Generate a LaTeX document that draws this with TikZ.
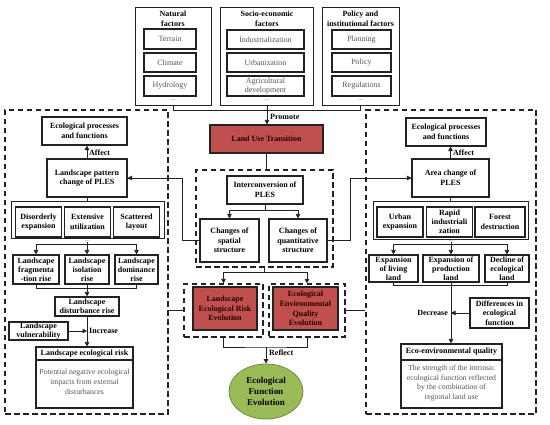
\documentclass[tikz,border=0pt]{standalone}
\usepackage{fontspec}
\setmainfont{Liberation Serif}
\usetikzlibrary{arrows.meta,shapes.geometric}
\definecolor{redf}{HTML}{C0504D}
\definecolor{greenf}{HTML}{9BBB59}
\definecolor{greenl}{HTML}{71893F}
\definecolor{ln}{HTML}{222222}
\definecolor{gtxt}{HTML}{555555}
\begin{document}
\begin{tikzpicture}[x=1pt,y=-1pt,
  sz/.style 2 args={minimum width=#1pt, minimum height=#2pt},
  bx/.style={draw=ln, line width=1.1pt, inner sep=0pt, align=center, font=\fontsize{8}{9.6}\selectfont\bfseries, text=black},
  obx/.style={draw=ln, line width=0.7pt, inner sep=0pt},
  ibx/.style={draw=ln, line width=1.1pt, inner sep=0pt, align=center, font=\fontsize{8}{9}\selectfont, text=gtxt},
  ttl/.style={inner sep=0pt, align=center, font=\fontsize{8}{9.8}\selectfont\bfseries},
  dbx/.style={draw=ln, line width=1.2pt, dash pattern=on 5.5pt off 3.5pt, inner sep=0pt},
  redbox/.style={bx, fill=redf, text=black!85!red},
  con/.style={draw=ln, line width=0.8pt},
  arr/.style={con, -{Triangle[length=4.5pt,width=4.5pt]}},
  lbl/.style={font=\fontsize{8}{9}\selectfont\bfseries, inner sep=1pt},
  dots/.style={font=\fontsize{5}{5}\selectfont, inner sep=0pt},
  body/.style={inner sep=0pt, align=center, font=\fontsize{7.8}{9.7}\selectfont, text=gtxt}]
\useasboundingbox (0,0) rectangle (550,425);
\fill[white] (0,0) rectangle (550,425);

% ---------- top factor boxes ----------
\node[obx, sz={76}{98}] (nat) at (173,56) {};
\node[ttl] (natT) at (173,19) {Natural\\factors};
\node[ibx, sz={52}{20}] (ter) at (170,39) {Terrain};
\node[ibx, sz={52}{19}] (cli) at (170,62.5) {Climate};
\node[ibx, sz={52}{20}] (hyd) at (170,86) {Hydrology};
\node[dots] (natD) at (173,100.5) {...};

\node[obx, sz={93}{98}] (soc) at (267,56) {};
\node[ttl] (socT) at (267,19) {Socio-economic\\factors};
\node[ibx, sz={77}{19}] (ind) at (265.5,39.5) {Industrialization};
\node[ibx, sz={77}{19}] (urbz) at (265.5,62.5) {Urbanization};
\node[ibx, sz={77}{20}, font=\fontsize{8}{8.4}\selectfont] (agr) at (265.5,86) {Agricultural\\development};
\node[dots] (socD) at (267,100.5) {...};

\node[obx, sz={77}{98}] (pol) at (360.5,56) {};
\node[ttl] (polT) at (360.5,19) {Policy and\\institutional factors};
\node[ibx, sz={59}{19}] (pla) at (361.5,39.5) {Planning};
\node[ibx, sz={59}{19}] (poli) at (361.5,62.5) {Policy};
\node[ibx, sz={59}{20}] (reg) at (361.5,86) {Regulations};
\node[dots] (polD) at (360.5,100.5) {...};

\coordinate (jt) at (267,110);
\draw[con] (nat.south) |- (jt);
\draw[con] (pol.south) |- (jt);
\draw[con] (soc.south) -- (jt);

% ---------- centre ----------
\node[redbox, sz={113}{28}] (lut) at (266.5,139) {Land Use Transition};
\draw[arr] (jt) -- (jt |- lut.north);
\node[lbl, anchor=west] (prom) at (269,117) {Promote};

\node[dbx, sz={137}{97}] (cdash) at (264.5,218.5) {};
\draw[con] (lut.south) -- (lut.south |- cdash.north);
\node[bx, sz={76}{28}] (inter) at (265,190) {Interconversion of\\PLES};
\node[bx, sz={59}{43}] (spa) at (229.5,240.5) {Changes of\\spatial\\structure};
\node[bx, sz={58}{43}] (qua) at (298,240.5) {Changes of\\quantitative\\structure};
\coordinate (jc) at (265,210);
\draw[con] (inter.south) -- (jc);
\draw[arr] (jc) -| (spa.north);
\draw[arr] (jc) -| (qua.north);

\node[dbx, sz={79}{53}] (rLd) at (223.5,310.5) {};
\node[redbox, sz={64}{43}] (rL) at (225,308.5) {Landscape\\Ecological Risk\\Evolution};
\node[dbx, sz={76}{53}] (rRd) at (307,310.5) {};
\node[redbox, sz={65}{43}] (rR) at (305.5,308.5) {Ecological\\Environmental\\Quality\\Evolution};
\coordinate (jb) at (264.5,272);
\draw[con] (cdash.south) -- (jb);
\draw[arr] (jb) -| (rLd.north);
\draw[arr] (jb) -| (rRd.north);

\node[ellipse, draw=greenl, line width=0.8pt, fill=greenf, inner sep=0pt, sz={74}{55}, align=center,
      font=\fontsize{9}{11}\selectfont\bfseries] (efe) at (266,391.5) {Ecological\\Function\\Evolution};
\coordinate (jr) at (266,347);
\draw[con] (rLd.south) |- (jr) -| (rRd.south);
\draw[arr] (jr) -- (efe.north);
\node[lbl, anchor=west] (refl) at (268,353) {Reflect};

% ---------- left panel ----------
\node[dbx, sz={163}{304}] (ldash) at (86.5,262) {};
\node[bx, sz={85}{28}] (epfL) at (84.5,131) {Ecological processes\\and functions};
\node[bx, sz={80}{38}] (lpc) at (87,178) {Landscape pattern\\change of PLES};
\draw[arr] (lpc.north) -- (lpc.north |- epfL.south);
\node[lbl, anchor=west] (affL) at (88,152.5) {Affect};
\node[obx, line width=1pt, sz={153}{37}] (grpL) at (87.5,220.5) {};
\draw[con] (lpc.south) -- (lpc.south |- grpL.north);
\node[bx, sz={46}{30}] (dis) at (38.5,222) {Disorderly\\expansion};
\node[bx, sz={46}{30}] (ext) at (87.5,222) {Extensive\\utilization};
\node[bx, sz={46}{30}] (sca) at (136.5,222) {Scattered\\layout};
\node[dots] (dL) at (87,241) {...};

\node[bx, sz={46}{29}, font=\fontsize{8}{9.2}\selectfont\bfseries] (frag) at (36,269.5) {Landscape\\fragmenta\\-tion rise};
\node[bx, sz={44}{29}, font=\fontsize{8}{9.2}\selectfont\bfseries] (iso) at (87,269.5) {Landscape\\isolation\\rise};
\node[bx, sz={43}{29}, font=\fontsize{8}{9.2}\selectfont\bfseries] (dom) at (136.5,269.5) {Landscape\\dominance\\rise};
\coordinate (jl1) at (87,244.5);
\draw[con] (dL.south) -- (jl1);
\draw[arr] (jl1) -| (frag.north);
\draw[arr] (jl1) -| (dom.north);
\draw[arr] (jl1) -- (iso.north);

\node[bx, sz={64}{19}, font=\fontsize{8}{8.8}\selectfont\bfseries] (dist) at (87,306.5) {Landscape\\disturbance rise};
\coordinate (jl2) at (87,288.5);
\draw[con] (frag.south) |- (jl2) -| (dom.south);
\draw[con] (iso.south) -- (jl2);
\draw[arr] (jl2) -- (dist.north);

\node[bx, sz={97}{13}] (lerT) at (84.5,353.5) {Landscape ecological risk};
\node[bx, sz={97}{48}] (lerB) at (84.5,384) {};
\node[body] (lerTx) at (84.5,382) {Potential negative ecological\\impacts from external\\disturbances};
\draw[arr] (dist.south) -- (dist.south |- lerT.north);
\node[bx, sz={59}{18}, font=\fontsize{8}{8.8}\selectfont\bfseries] (vul) at (38.5,331) {Landscape\\vulnerability};
\draw[arr] (vul.east) -- (vul.east -| dist.south);
\node[lbl, anchor=west] (incr) at (88,331) {Increase};

\draw[con] (spa.west) -- ++(-17,0) |- (lpc.east);
\draw[arr] ([xshift=-17pt]spa.west |- lpc.east) -- (lpc.east);
\draw[con] (rLd.west) -- (rLd.west -| ldash.east);

% ---------- right panel ----------
\node[dbx, sz={170}{304}] (rdash) at (451,262) {};
\node[bx, sz={80}{28}] (epfR) at (446,132) {Ecological processes\\and functions};
\node[bx, sz={77}{38}] (acp) at (450.5,178) {Area change of\\PLES};
\draw[arr] (acp.north) -- (acp.north |- epfR.south);
\node[lbl, anchor=west] (affR) at (452,152.5) {Affect};
\node[obx, line width=1pt, sz={155}{38}] (grpR) at (450.5,221) {};
\draw[con] (acp.south) -- (acp.south |- grpR.north);
\node[bx, sz={46}{30}] (urb) at (400,222) {Urban\\expansion};
\node[bx, sz={46}{30}, font=\fontsize{8}{8.8}\selectfont\bfseries] (rap) at (449.5,222) {Rapid\\industriali\\zation};
\node[bx, sz={50}{30}] (fore) at (500,222) {Forest\\destruction};
\node[dots] (dR) at (451,241) {...};

\node[bx, sz={49}{27}, font=\fontsize{8}{8.8}\selectfont\bfseries] (liv) at (393.5,268.5) {Expansion\\of living\\land};
\node[bx, sz={56}{27}, font=\fontsize{8}{8.8}\selectfont\bfseries] (pro) at (451,268.5) {Expansion of\\production\\land};
\node[bx, sz={44}{27}, font=\fontsize{8}{8.8}\selectfont\bfseries] (decl) at (507,268.5) {Decline of\\ecological\\land};
\coordinate (jr1) at (451,244.5);
\draw[con] (dR.south) -- (jr1);
\draw[arr] (jr1) -| (liv.north);
\draw[arr] (jr1) -| (decl.north);
\draw[arr] (jr1) -- (pro.north);

\coordinate (jr2) at (451,285.5);
\draw[con] (liv.south) |- (jr2) -| (decl.south);
\draw[con] (pro.south) -- (jr2);

\node[bx, sz={101}{16}] (eeqT) at (451.5,352) {Eco-environmental quality};
\node[bx, sz={101}{48}] (eeqB) at (451.5,384) {};
\node[body] (eeqTx) at (451.5,383) {The strength of the intrinsic\\ecological function reflected\\by the combination of\\regional land use};
\draw[arr] (jr2) -- (jr2 |- eeqT.north);
\node[bx, sz={59}{30}] (dif) at (499.5,313) {Differences in\\ecological\\function};
\draw[arr] (dif.west) -- (dif.west -| jr2);
\node[lbl, anchor=east] (decr) at (449,313) {Decrease};

\draw[con] (qua.east) -- ++(23,0) |- (acp.west);
\draw[arr] ([xshift=23pt]qua.east |- acp.west) -- (acp.west);
\draw[con] (rRd.east) -- (rRd.east -| rdash.west);
\end{tikzpicture}
\end{document}
